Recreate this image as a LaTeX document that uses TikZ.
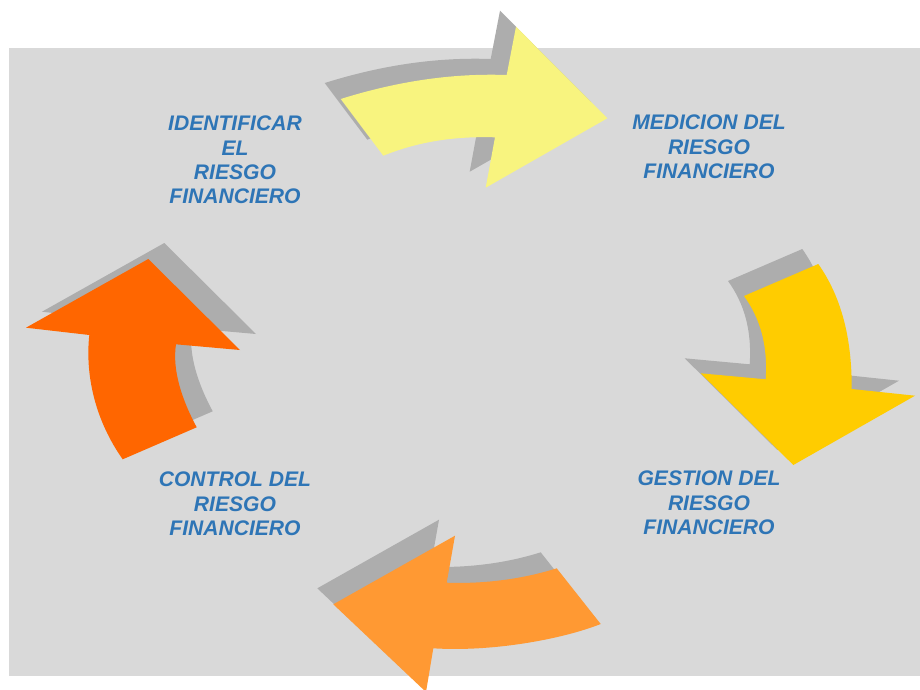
\documentclass[tikz,border=0pt]{standalone}
\usepackage{fontspec}
\setmainfont{Liberation Sans}
\definecolor{panel}{HTML}{D9D9D9}
\definecolor{dropgray}{HTML}{ADADAD}
\definecolor{lemon}{HTML}{F8F47F}
\definecolor{gold}{HTML}{FFCC00}
\definecolor{amber}{HTML}{FF9933}
\definecolor{tangerine}{HTML}{FF6600}
\definecolor{phaseblue}{HTML}{2E75B6}
\begin{document}
\begin{tikzpicture}[x=0.02cm,y=-0.02cm,
  phase/.style={text=phaseblue,font=\bfseries\itshape\fontsize{12}{13.9}\selectfont,align=center}]
\useasboundingbox (0,0) rectangle (920,690);
\clip (0,0) rectangle (920,690);
\fill[panel] (9,48) rectangle (920,676);

\foreach \dx/\dy/\col in {-16/-16/dropgray, 0/0/lemon}
  \fill[\col, shift={(\dx,\dy)}] (340.7,99) .. controls (395,82) and (450,73) .. (506.7,75)
    -- (516,26.7) -- (607.3,118.3) -- (485.7,187.7) -- (495,137.3)
    .. controls (450,136) and (415,143) .. (383.3,155.7) -- cycle;

\foreach \dx/\dy/\col in {-16/-15/dropgray, 0/0/gold}
  \fill[\col, shift={(\dx,\dy)}] (744,296) -- (818.3,264) .. controls (840,295) and (852,335) .. (851.7,389)
    -- (915,395.7) -- (793.3,465) -- (700.7,373.3) -- (765.7,379.3)
    .. controls (768,345) and (760,318) .. (744,296) -- cycle;

\foreach \dx/\dy/\col in {-16/-16/dropgray, 0/0/amber}
  \fill[\col, shift={(\dx,\dy)}] (556.7,568.3) -- (600.7,624) .. controls (560,640) and (490,652) .. (433.3,648.3)
    -- (426,692) -- (333.3,604.3) -- (455,535.7) -- (446.7,582.7)
    .. controls (480,584) and (520,580) .. (556.7,568.3) -- cycle;

\foreach \dx/\dy/\col in {16/-16/dropgray, 0/0/tangerine}
  \fill[\col, shift={(\dx,\dy)}] (122.7,459.3) -- (196.7,427.3) .. controls (182,400) and (172,370) .. (176,344.3)
    -- (240,350) -- (148.3,259) -- (26,327.7) -- (89.3,335)
    .. controls (85,375) and (95,420) .. (122.7,459.3) -- cycle;

\node[phase] (identify) at (235,160) {IDENTIFICAR\\EL\\RIESGO\\FINANCIERO};
\node[phase] (measure) at (709,147) {MEDICION DEL\\RIESGO\\FINANCIERO};
\node[phase] (manage) at (709,503) {GESTION DEL\\RIESGO\\FINANCIERO};
\node[phase] (control) at (235,504) {CONTROL DEL\\RIESGO\\FINANCIERO};

\end{tikzpicture}
\end{document}
